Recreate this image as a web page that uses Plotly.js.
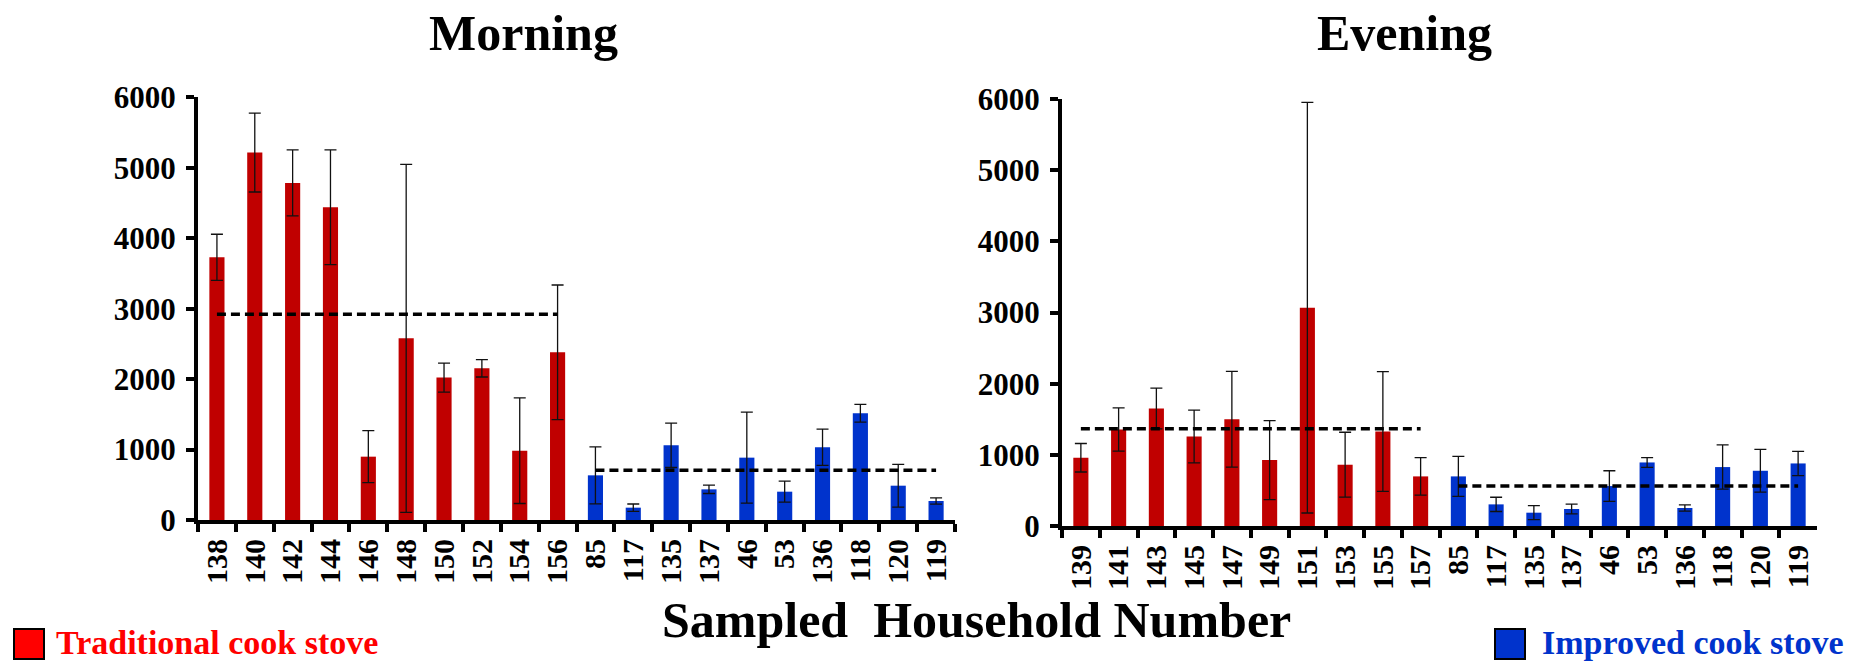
<!DOCTYPE html>
<html>
<head>
<meta charset="utf-8">
<script src="https://cdn.plot.ly/plotly-3.0.1.min.js"></script>
<style>html,body{margin:0;padding:0;background:#fff;}#chart{width:1864px;height:663px;}</style>
</head>
<body>
<div id="chart"></div>
<script>
// ---- Morning panel data ----
const morningTradCats = ['138','140','142','144','146','148','150','152','154','156'];
const morningTradValues = [3729, 5215, 4785, 4439, 899, 2579, 2021, 2153, 984, 2380];
const morningTradErr = [327, 559, 469, 814, 369, 2470, 206, 123, 750, 956];
const morningImpCats = ['85','117','135','137','46','53','136','118','120','119'];
const morningImpValues = [634, 175, 1060, 435, 885, 402, 1032, 1514, 487, 270];
const morningImpErr = [405, 52, 315, 59, 646, 149, 258, 126, 303, 45];
const morningMeans = [2920, 705]; // traditional, improved

// ---- Evening panel data ----
const eveningTradCats = ['139','141','143','145','147','149','151','153','155','157'];
const eveningTradValues = [959, 1356, 1651, 1258, 1501, 926, 3068, 861, 1328, 697];
const eveningTradErr = [200, 304, 285, 370, 673, 555, 2885, 456, 842, 264];
const eveningImpCats = ['85','117','135','137','46','53','136','118','120','119'];
const eveningImpValues = [697, 304, 187, 239, 561, 893, 253, 828, 776, 879];
const eveningImpErr = [280, 100, 98, 68, 215, 68, 43, 311, 300, 170];
const eveningMeans = [1366, 561];

const yTicks = [0, 1000, 2000, 3000, 4000, 5000, 6000];
const panelTitles = ['Morning', 'Evening'];
const xAxisTitle = 'Sampled\u00a0\u00a0Household Number';
const legendLabels = ['Traditional cook stove', 'Improved cook stove'];

const RED = '#C00000', BLUE = '#0033CC';
const SERIF = 'Liberation Serif, Times New Roman, serif';

function barTrace(x, y, err, color, xa, ya) {
  return {
    type: 'bar', x: x, y: y, xaxis: xa, yaxis: ya,
    marker: {color: color, line: {width: 0}},
    width: 0.4,
    error_y: {type: 'data', array: err, visible: true, color: '#111', thickness: 1.3, width: 6},
    showlegend: false, hoverinfo: 'skip'
  };
}
function meanTrace(cats, m, xa, ya) {
  return {
    type: 'scatter', mode: 'lines', x: [cats[0], cats[cats.length - 1]], y: [m, m],
    xaxis: xa, yaxis: ya,
    line: {color: '#000', width: 3.5, dash: '9px,5px'},
    showlegend: false, hoverinfo: 'skip'
  };
}

const data = [
  barTrace(morningTradCats, morningTradValues, morningTradErr, RED, 'x', 'y'),
  barTrace(morningImpCats, morningImpValues, morningImpErr, BLUE, 'x', 'y'),
  meanTrace(morningTradCats, morningMeans[0], 'x', 'y'),
  meanTrace(morningImpCats, morningMeans[1], 'x', 'y'),
  barTrace(eveningTradCats, eveningTradValues, eveningTradErr, RED, 'x2', 'y2'),
  barTrace(eveningImpCats, eveningImpValues, eveningImpErr, BLUE, 'x2', 'y2'),
  meanTrace(eveningTradCats, eveningMeans[0], 'x2', 'y2'),
  meanTrace(eveningImpCats, eveningMeans[1], 'x2', 'y2')
];

const xTickFont = {family: SERIF, size: 30, color: '#000', weight: 'bold'};
const yTickFont = {family: SERIF, size: 31, color: '#000', weight: 'bold'};

function xAxis(domain, anchor, cats) {
  return {
    domain: domain, anchor: anchor, type: 'category',
    categoryorder: 'array', categoryarray: cats,
    range: [-0.5, cats.length - 0.5],
    showline: true, linecolor: '#000', linewidth: 4,
    ticks: 'outside', tickson: 'boundaries', ticklen: 8, tickwidth: 4, tickcolor: '#000',
    tickangle: -90, tickfont: xTickFont, ticklabelstandoff: 3,
    showgrid: false, zeroline: false, fixedrange: true
  };
}
function yAxis(domain, anchor) {
  return {
    domain: domain, anchor: anchor, range: [0, 6000],
    tickvals: yTicks, ticktext: yTicks.map(String),
    showline: true, linecolor: '#000', linewidth: 4,
    ticks: 'outside', ticklen: 8, tickwidth: 4, tickcolor: '#000',
    tickfont: yTickFont, ticklabelstandoff: 4,
    showgrid: false, zeroline: false, fixedrange: true
  };
}

const W = 1864, H = 663;
const px = v => v / W, py = v => 1 - v / H;

const layout = {
  width: W, height: H,
  margin: {l: 0, r: 0, t: 0, b: 0},
  paper_bgcolor: '#fff', plot_bgcolor: 'rgba(0,0,0,0)',
  showlegend: false, bargap: 0.6,
  xaxis: xAxis([px(198), px(955)], 'y', morningTradCats.concat(morningImpCats)),
  yaxis: yAxis([py(520), py(97.3)], 'x'),
  xaxis2: xAxis([px(1062), px(1817)], 'y2', eveningTradCats.concat(eveningImpCats)),
  yaxis2: yAxis([py(526), py(99)], 'x2'),
  annotations: [
    {text: panelTitles[0], xref: 'paper', yref: 'paper', x: px(523), y: py(33), xanchor: 'center', yanchor: 'middle',
     showarrow: false, font: {family: SERIF, size: 50, color: '#000', weight: 'bold'}},
    {text: panelTitles[1], xref: 'paper', yref: 'paper', x: px(1404), y: py(33), xanchor: 'center', yanchor: 'middle',
     showarrow: false, font: {family: SERIF, size: 50, color: '#000', weight: 'bold'}},
    {text: xAxisTitle, xref: 'paper', yref: 'paper', x: px(977), y: py(620), xanchor: 'center', yanchor: 'middle',
     showarrow: false, font: {family: SERIF, size: 50, color: '#000', weight: 'bold'}},
    {text: legendLabels[0], xref: 'paper', yref: 'paper', x: px(55), y: py(662), xanchor: 'left', yanchor: 'bottom',
     showarrow: false, borderpad: 0, font: {family: SERIF, size: 34, color: '#FF0000', weight: 'bold'}},
    {text: legendLabels[1], xref: 'paper', yref: 'paper', x: px(1541), y: py(662), xanchor: 'left', yanchor: 'bottom',
     showarrow: false, borderpad: 0, font: {family: SERIF, size: 34, color: BLUE, weight: 'bold'}}
  ],
  shapes: [
    {type: 'rect', xref: 'paper', yref: 'paper', x0: px(14), x1: px(44), y0: py(659), y1: py(629),
     fillcolor: '#FF0000', line: {color: '#000', width: 2}},
    {type: 'rect', xref: 'paper', yref: 'paper', x0: px(1495), x1: px(1525), y0: py(659), y1: py(629),
     fillcolor: BLUE, line: {color: '#000', width: 2}}
  ]
};

Plotly.newPlot('chart', data, layout, {displayModeBar: false, staticPlot: true});
</script>
</body>
</html>
